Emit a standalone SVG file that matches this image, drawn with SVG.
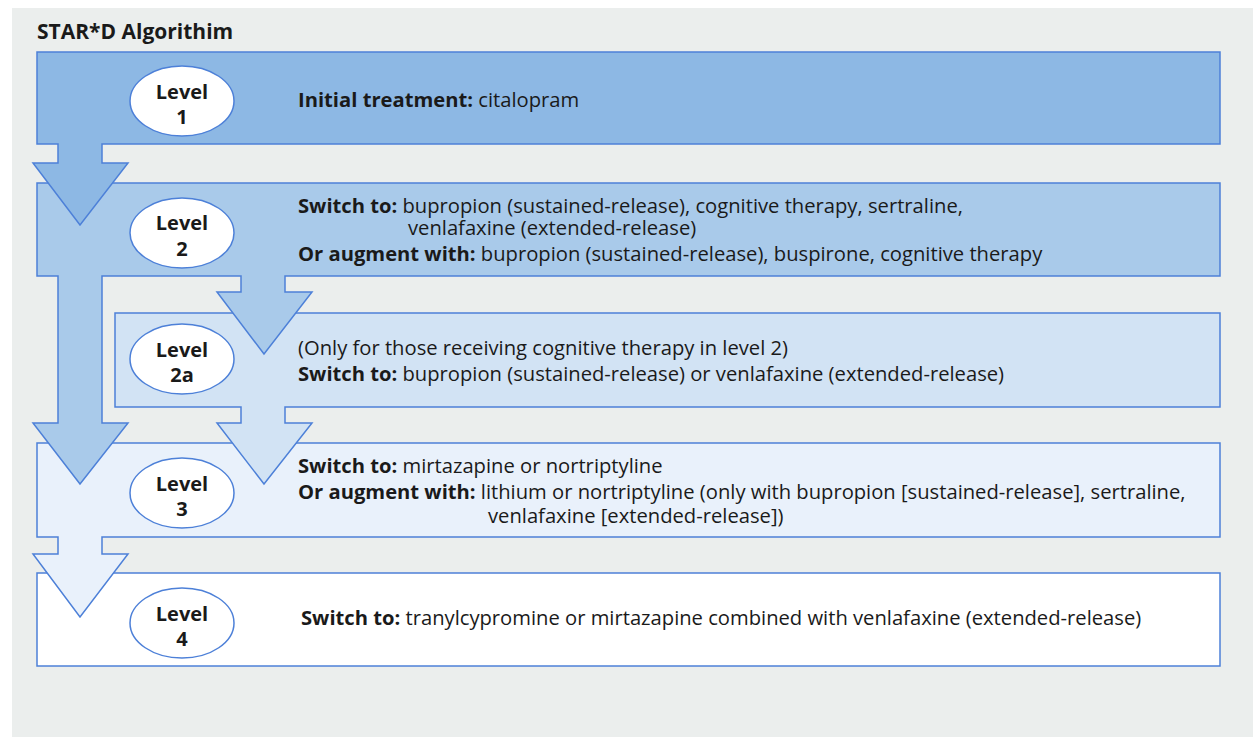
<svg xmlns="http://www.w3.org/2000/svg" width="1253" height="737" viewBox="0 0 1253 737">
<style>
.shape{stroke:#4d80d8;stroke-width:1.5;stroke-linejoin:miter}
.ell{fill:#fff;stroke:#4d80d8;stroke-width:1.5}
.lv{font-family:"Open Sans","Liberation Sans",sans-serif;font-weight:bold;font-size:20px;fill:#1a1a1a;text-anchor:middle}
.t{font-family:"Open Sans","Liberation Sans",sans-serif;font-size:20.2px;fill:#1a1a1a}
.b{font-weight:bold}
</style>
<rect x="0" y="0" width="1253" height="737" fill="#fff"/>
<rect x="12" y="8" width="1241" height="729" fill="#ebeeed"/>
<text x="37" y="39" class="t b" style="font-size:21px">STAR*D Algorithim</text>
<g id="connectors"/>
<g id="level4">
<rect class="shape" x="37" y="573" width="1183" height="93" fill="#ffffff"/>
<ellipse class="ell" cx="182" cy="623" rx="52" ry="35"/>
<text class="lv" x="182" y="621">Level</text>
<text class="lv" x="182" y="646">4</text>
<text class="t" x="301" y="625"><tspan class="b">Switch to:</tspan> tranylcypromine or mirtazapine combined with venlafaxine (extended-release)</text>
</g>
<g id="level3">
<path class="shape" fill="#e9f1fb" d="M37,443 H1220 V537 H102 V554 H128 L80,617 L33,554 H58 V537 H37 Z"/>
<ellipse class="ell" cx="182" cy="493" rx="52" ry="35"/>
<text class="lv" x="182" y="491">Level</text>
<text class="lv" x="182" y="516">3</text>
<text class="t" x="298" y="473"><tspan class="b">Switch to:</tspan> mirtazapine or nortriptyline</text>
<text class="t" x="298" y="499"><tspan class="b">Or augment with:</tspan> lithium or nortriptyline (only with bupropion [sustained-release], sertraline,</text>
<text class="t" x="488" y="523">venlafaxine [extended-release])</text>
</g>
<g id="level2a">
<path class="shape" fill="#d2e3f4" d="M115,313 H1220 V407 H285 V423 H312 L264,484 L217,423 H241 V407 H115 Z"/>
<ellipse class="ell" cx="182" cy="359" rx="52" ry="35"/>
<text class="lv" x="182" y="357">Level</text>
<text class="lv" x="182" y="382">2a</text>
<text class="t" x="298" y="355">(Only for those receiving cognitive therapy in level 2)</text>
<text class="t" x="298" y="381"><tspan class="b">Switch to:</tspan> bupropion (sustained-release) or venlafaxine (extended-release)</text>
</g>
<g id="level2">
<path class="shape" fill="#a9caea" d="M37,183 H1220 V276 H285 V292 H312 L264,354 L217,292 H241 V276 H102 V423 H128 L80,484 L33,423 H58 V276 H37 Z"/>
<ellipse class="ell" cx="182" cy="233" rx="52" ry="35"/>
<text class="lv" x="182" y="230">Level</text>
<text class="lv" x="182" y="256">2</text>
<text class="t" x="298" y="213"><tspan class="b">Switch to:</tspan> bupropion (sustained-release), cognitive therapy, sertraline,</text>
<text class="t" x="408" y="235">venlafaxine (extended-release)</text>
<text class="t" x="298" y="261"><tspan class="b">Or augment with:</tspan> bupropion (sustained-release), buspirone, cognitive therapy</text>
</g>
<g id="level1">
<path class="shape" fill="#8db8e4" d="M37,52 H1220 V144 H102 V163 H128 L80,225 L33,163 H58 V144 H37 Z"/>
<ellipse class="ell" cx="182" cy="101" rx="52" ry="35"/>
<text class="lv" x="182" y="99">Level</text>
<text class="lv" x="182" y="124">1</text>
<text class="t" x="298" y="107"><tspan class="b">Initial treatment:</tspan> citalopram</text>
</g>
</svg>
